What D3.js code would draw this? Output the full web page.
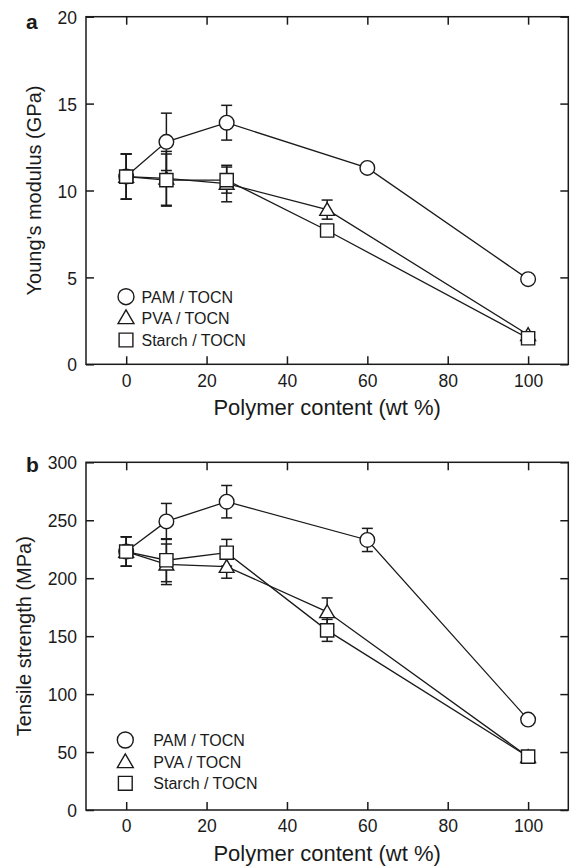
<!DOCTYPE html>
<html>
<head>
<meta charset="utf-8">
<script src="https://cdn.jsdelivr.net/npm/d3@7"></script>
<style>
  html, body { margin: 0; padding: 0; background: #fff; }
  svg { display: block; }
  text { font-family: "Liberation Sans", Arial, Helvetica, sans-serif; fill: #1a1a1a; }
</style>
</head>
<body>
<svg id="chart" width="572" height="867"></svg>
<script>
// Polymer content (wt %) for each blend series
const pamContent = [0, 10, 25, 60, 100];
const pvaContent = [0, 10, 25, 50, 100];
const starchContent = [0, 10, 25, 50, 100];

// Panel a: Young's modulus (GPa) and standard deviations
const pamModulus = [10.8, 12.8, 13.9, 11.3, 4.9];
const pamModulusErr = [1.3, 1.65, 1.0, 0, 0];
const pvaModulus = [10.8, 10.7, 10.4, 8.9, 1.7];
const pvaModulusErr = [1.3, 1.55, 1.05, 0.55, 0];
const starchModulus = [10.8, 10.6, 10.6, 7.7, 1.5];
const starchModulusErr = [1.3, 1.5, 0.75, 0.3, 0];

// Panel b: tensile strength (MPa) and standard deviations
const pamStrength = [223, 249, 266, 233, 78];
const pamStrengthErr = [12.7, 15.5, 14, 10, 0];
const pvaStrength = [223, 212, 210, 171, 46];
const pvaStrengthErr = [12.7, 17.5, 10, 12, 0];
const starchStrength = [223, 215.5, 222, 155, 46];
const starchStrengthErr = [12.7, 18.5, 11.5, 9.5, 0];

const seriesNames = ["PAM / TOCN", "PVA / TOCN", "Starch / TOCN"];
const seriesSymbols = ["circle", "triangle", "square"];

const xTicks = [0, 20, 40, 60, 80, 100];
const modulusTicks = [0, 5, 10, 15, 20];
const strengthTicks = [0, 50, 100, 150, 200, 250, 300];

const svg = d3.select("#chart");
const ink = "#1a1a1a";

function symbolPath(kind, size) {
  const t = kind === "circle" ? d3.symbolCircle : kind === "triangle" ? d3.symbolTriangle : d3.symbolSquare;
  return d3.symbol().type(t).size(size)();
}
const symbolSize = { circle: 168, triangle: 95, square: 175 };
const legendSize = { circle: 200, triangle: 110, square: 190 };

function drawPanel(opt) {
  const { top, bottom, left, right, yDomain, yTicks, series, letter, yTitle, legend } = opt;
  const g = svg.append("g");
  const x = d3.scaleLinear().domain([-10, 110]).range([left, right]);
  const y = d3.scaleLinear().domain(yDomain).range([bottom, top]);

  // frame
  g.append("rect").attr("x", left).attr("y", top)
    .attr("width", right - left).attr("height", bottom - top)
    .attr("fill", "none").attr("stroke", ink).attr("stroke-width", 1.5);

  // inward ticks on all four sides
  const axB = g.append("g").attr("transform", `translate(0,${bottom})`)
    .call(d3.axisBottom(x).tickValues(xTicks).tickSize(-8).tickPadding(10).tickFormat(d3.format("d")));
  const axT = g.append("g").attr("transform", `translate(0,${top})`)
    .call(d3.axisTop(x).tickValues(xTicks).tickSize(-8).tickFormat(""));
  const axL = g.append("g").attr("transform", `translate(${left},0)`)
    .call(d3.axisLeft(y).tickValues(yTicks).tickSize(-8).tickPadding(9).tickFormat(d3.format("d")));
  const axR = g.append("g").attr("transform", `translate(${right},0)`)
    .call(d3.axisRight(y).tickValues(yTicks).tickSize(-8).tickFormat(""));
  [axB, axT, axL, axR].forEach(a => {
    a.select(".domain").remove();
    a.selectAll("line").attr("stroke", ink).attr("stroke-width", 1.5);
    a.selectAll("text").style("font-size", "17.5px").attr("fill", ink)
      .style("font-family", '"Liberation Sans", Arial, sans-serif');
  });
  axL.selectAll("text").attr("dy", "0.38em");

  // axis titles
  g.append("text").attr("x", (left + right) / 2).attr("y", bottom + 51)
    .attr("text-anchor", "middle").style("font-size", "22px").text("Polymer content (wt %)");
  g.append("text")
    .attr("transform", `translate(${opt.yTitleX},${(top + bottom) / 2}) rotate(-90)`)
    .attr("text-anchor", "middle").style("font-size", "20px").text(yTitle);

  // panel letter
  g.append("text").attr("x", 26).attr("y", top + opt.letterDy)
    .style("font-size", "21px").style("font-weight", "bold").text(letter);

  const line = d3.line().x(d => x(d.x)).y(d => y(d.y));
  const rows = series.map(s => s.xs.map((v, i) => ({ x: v, y: s.ys[i], e: s.es[i] })));

  // connecting lines
  rows.forEach(r => {
    g.append("path").datum(r).attr("d", line)
      .attr("fill", "none").attr("stroke", ink).attr("stroke-width", 1.3);
  });

  // error bars
  rows.forEach(r => {
    const eb = g.append("g").selectAll("g").data(r.filter(d => d.e > 0)).join("g");
    eb.append("line").attr("x1", d => x(d.x)).attr("x2", d => x(d.x))
      .attr("y1", d => y(d.y - d.e)).attr("y2", d => y(d.y + d.e));
    eb.append("line").attr("x1", d => x(d.x) - 5.5).attr("x2", d => x(d.x) + 5.5)
      .attr("y1", d => y(d.y + d.e)).attr("y2", d => y(d.y + d.e));
    eb.append("line").attr("x1", d => x(d.x) - 5.5).attr("x2", d => x(d.x) + 5.5)
      .attr("y1", d => y(d.y - d.e)).attr("y2", d => y(d.y - d.e));
    eb.selectAll("line").attr("stroke", ink).attr("stroke-width", 1.5);
  });

  // markers
  rows.forEach((r, k) => {
    const kind = seriesSymbols[k];
    g.append("g").selectAll("path").data(r).join("path")
      .attr("transform", d => `translate(${x(d.x)},${y(d.y) + (kind === "triangle" ? 1.5 : 0)})`)
      .attr("d", symbolPath(kind, symbolSize[kind]))
      .attr("fill", "#fff").attr("stroke", ink).attr("stroke-width", 1.4);
  });

  // legend
  seriesNames.forEach((name, k) => {
    const kind = seriesSymbols[k];
    const cy = legend.y[k];
    g.append("path")
      .attr("transform", `translate(${legend.x},${cy + (kind === "triangle" ? 1.5 : 0)})`)
      .attr("d", symbolPath(kind, legendSize[kind]))
      .attr("fill", "#fff").attr("stroke", ink).attr("stroke-width", 1.4);
    g.append("text").attr("x", legend.textX).attr("y", cy + 6)
      .style("font-size", "16px").text(name);
  });
}

drawPanel({
  top: 16.7, bottom: 364.3, left: 86, right: 568.3,
  yDomain: [0, 20], yTicks: modulusTicks,
  letter: "a", letterDy: 12.5, yTitle: "Young's modulus (GPa)", yTitleX: 41,
  series: [
    { xs: pamContent, ys: pamModulus, es: pamModulusErr },
    { xs: pvaContent, ys: pvaModulus, es: pvaModulusErr },
    { xs: starchContent, ys: starchModulus, es: starchModulusErr }
  ],
  legend: { x: 126, textX: 141.5, y: [296.7, 317.5, 340] }
});

drawPanel({
  top: 462.3, bottom: 810, left: 86, right: 568.3,
  yDomain: [0, 300], yTicks: strengthTicks,
  letter: "b", letterDy: 9.5, yTitle: "Tensile strength (MPa)", yTitleX: 31,
  series: [
    { xs: pamContent, ys: pamStrength, es: pamStrengthErr },
    { xs: pvaContent, ys: pvaStrength, es: pvaStrengthErr },
    { xs: starchContent, ys: starchStrength, es: starchStrengthErr }
  ],
  legend: { x: 125.3, textX: 153.3, y: [740, 761.5, 783.3] }
});
</script>
</body>
</html>
